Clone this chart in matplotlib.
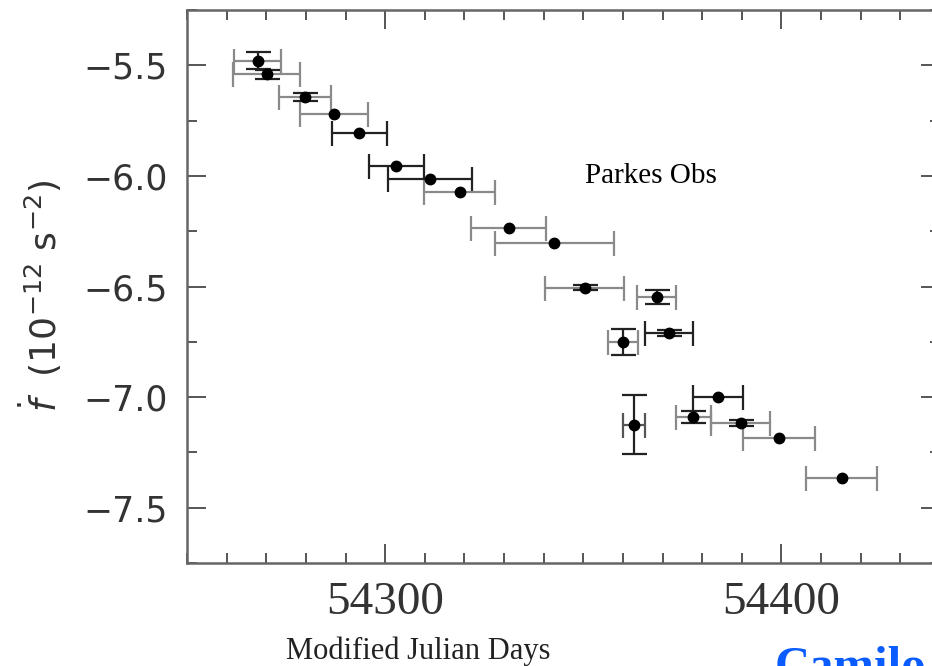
import numpy as np
import matplotlib
matplotlib.use("Agg")
import matplotlib.pyplot as plt
from matplotlib.ticker import MultipleLocator

# Timing measurements: MJD, fdot (1e-12 s^-2) with errors
mjd = [54267.8, 54270.1, 54279.8, 54287.1, 54293.5, 54302.8, 54311.2, 54318.8,
       54331.2, 54342.7, 54350.3, 54368.5, 54371.6, 54360.0, 54384.0, 54362.8,
       54377.8, 54389.7, 54399.4, 54415.2]
fdot = [-5.48, -5.541, -5.643, -5.719, -5.806, -5.957, -6.013, -6.073,
        -6.236, -6.304, -6.506, -6.548, -6.711, -6.752, -7.001, -7.124,
        -7.091, -7.117, -7.185, -7.367]
mjd_err = [5.9, 8.5, 6.5, 8.6, 7.0, 7.0, 10.6, 9.0,
           9.5, 15.0, 10.0, 5.0, 6.1, 3.7, 6.4, 2.7,
           4.5, 7.5, 9.1, 9.0]
# 0 means the error is hidden under the marker
fdot_err = [0.038, 0.02, 0.02, 0.0, 0.0, 0.0, 0.0, 0.0,
            0.0, 0.0, 0.012, 0.032, 0.015, 0.059, 0.0, 0.133,
            0.026, 0.015, 0.0, 0.0]

# shade of each error bar
bar_shade = ['#8a8a8a', '#8a8a8a', '#8a8a8a', '#8a8a8a', '#222222', '#222222', '#222222', '#8a8a8a',
             '#8a8a8a', '#8a8a8a', '#8a8a8a', '#8a8a8a', '#222222', '#8a8a8a', '#222222', '#555555',
             '#8a8a8a', '#8a8a8a', '#8a8a8a', '#8a8a8a']

fig = plt.figure(figsize=(9.32, 6.66), dpi=100)
ax = fig.add_axes([187/932, 103/666, 753/932, 553/666])

for x, y, xe, ye, c in zip(mjd, fdot, mjd_err, fdot_err, bar_shade):
    ax.errorbar(x, y, xerr=xe, fmt='none', ecolor=c, elinewidth=1.6,
                capsize=9, capthick=1.6)
    if ye > 0:
        ax.errorbar(x, y, yerr=ye, fmt='none', ecolor='#222222', elinewidth=1.6,
                    capsize=9, capthick=1.6)
ax.plot(mjd, fdot, 'o', color='black', ms=7.5, ls='none')

ax.set_xlim(54250, 54440)
ax.set_ylim(-7.75, -5.25)

ax.xaxis.set_major_locator(MultipleLocator(100))
ax.xaxis.set_minor_locator(MultipleLocator(10))
ax.yaxis.set_major_locator(MultipleLocator(0.5))
ax.yaxis.set_minor_locator(MultipleLocator(0.25))
ax.yaxis.set_major_formatter(plt.FuncFormatter(lambda v, p: f"\u2212{abs(v):.1f}"))

ax.tick_params(which='both', direction='in', top=True, right=True, color='#555555', width=1.4)
ax.tick_params(which='major', length=14)
ax.tick_params(which='minor', length=7)
ax.tick_params(axis='y', labelsize=25, pad=14, labelcolor='#333333')
ax.tick_params(axis='x', labelsize=34, pad=13, labelcolor='#333333')
for lab in ax.get_xticklabels():
    lab.set_family('Liberation Serif')
for s in ax.spines.values():
    s.set_color('#666666')
    s.set_linewidth(1.8)

ax.text(54350.5, -6.0, 'Parkes Obs', family='Liberation Serif', fontsize=21,
        va='center', ha='left')

fig.text(418/932, 1 - 651/666, 'Modified Julian Days', family='Liberation Serif',
         fontsize=22, ha='center', va='center', color='#222222')
fig.text(40/932, 1 - 296/666, r'$\dot{f}$  (10$^{-12}$ s$^{-2}$)', fontsize=26,
         rotation=90, ha='center', va='center', color='#333333')
fig.text(775/932, 1 - 646/666, 'Camilo', family='Liberation Serif', fontsize=35,
         fontweight='bold', color='#0a5cff', ha='left', va='top')

fig.savefig('out.png', dpi=100)
